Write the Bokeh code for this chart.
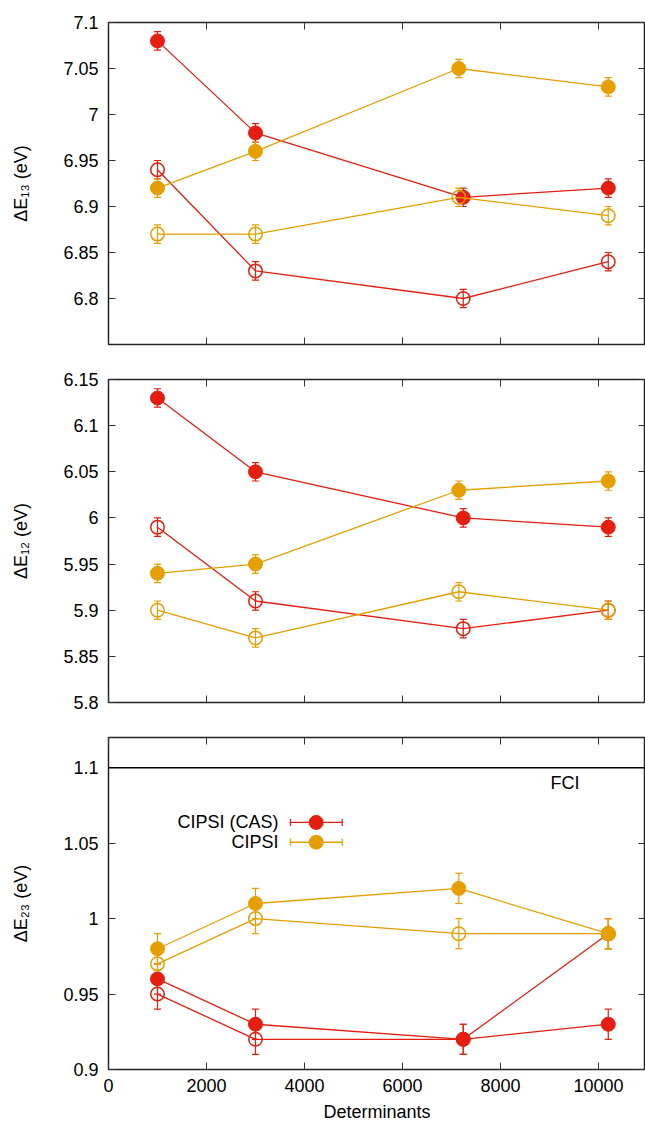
from bokeh.plotting import figure
from bokeh.layouts import column
from bokeh.models import (ColumnDataSource, LinearAxis, FixedTicker, CustomJSTickFormatter,
                          Whisker, TeeHead, Span, Label, Range1d, CustomLabelingPolicy)
from bokeh.embed import file_html
from bokeh.resources import INLINE

# ---------------- data ----------------
X_CAS = [1000, 3000, 7240, 10200]
X_CIPSI = [1000, 3000, 7150, 10200]
ERR = [0.01, 0.01, 0.01, 0.01]

# Delta E13
E13_CAS_FILLED = [7.08, 6.98, 6.91, 6.92]
E13_CAS_OPEN = [6.94, 6.83, 6.80, 6.84]
E13_CIPSI_FILLED = [6.92, 6.96, 7.05, 7.03]
E13_CIPSI_OPEN = [6.87, 6.87, 6.91, 6.89]

# Delta E12
E12_CAS_FILLED = [6.13, 6.05, 6.00, 5.99]
E12_CAS_OPEN = [5.99, 5.91, 5.88, 5.90]
E12_CIPSI_FILLED = [5.94, 5.95, 6.03, 6.04]
E12_CIPSI_OPEN = [5.90, 5.87, 5.92, 5.90]

# Delta E23
E23_CAS_FILLED = [0.96, 0.93, 0.92, 0.93]
E23_CAS_OPEN = [0.95, 0.92, 0.92, 0.99]
E23_CIPSI_FILLED = [0.98, 1.01, 1.02, 0.99]
E23_CIPSI_OPEN = [0.97, 1.00, 0.99, 0.99]

FCI_E23 = 1.1

X_TICKS = [0, 2000, 4000, 6000, 8000, 10000]
Y13_TICKS = [6.8, 6.85, 6.9, 6.95, 7.0, 7.05, 7.1]
Y12_TICKS = [5.8, 5.85, 5.9, 5.95, 6.0, 6.05, 6.1, 6.15]
Y23_TICKS = [0.9, 0.95, 1.0, 1.05, 1.1]

LEGEND_LABELS = ["CIPSI (CAS)", "CIPSI"]

# ---------------- style ----------------
RED = "#e51e10"
ORANGE = "#e69f00"
FONT = "Liberation Sans"
FS = "18px"
X_END = 10960
FRAME_W = 537

NO_LABELS = """
try {
  const r = indices.clone();
  for (let i = 0; i < indices.size; i++) { r.set(i, false); }
  return r;
} catch (e) {
  return indices;
}
"""


def style_axis(ax, show_labels):
    ax.axis_line_color = None
    ax.major_tick_in = 7
    ax.major_tick_out = 0
    ax.minor_tick_in = 0
    ax.minor_tick_out = 0
    ax.major_tick_line_color = "#333333"
    ax.major_tick_line_width = 1
    if show_labels:
        ax.major_label_text_font = FONT
        ax.major_label_text_font_size = FS
        ax.major_label_text_color = "black"
    else:
        ax.major_label_text_font_size = "0px"
        ax.major_label_standoff = 0
        ax.major_label_policy = CustomLabelingPolicy(code=NO_LABELS)


def make_panel(yr, yticks, ylabel, series, frame_h, top, bottom, show_x):
    p = figure(x_range=Range1d(0, X_END), y_range=Range1d(*yr),
               frame_width=FRAME_W, frame_height=frame_h,
               min_border_left=108, min_border_right=0,
               min_border_top=top, min_border_bottom=bottom,
               output_backend="svg", toolbar_location=None)
    p.grid.visible = False
    p.outline_line_color = "#222222"
    p.outline_line_width = 1.5
    p.background_fill_color = "white"
    p.border_fill_color = "white"

    xt = FixedTicker(ticks=X_TICKS, minor_ticks=[])
    yt = FixedTicker(ticks=yticks, minor_ticks=[])
    yfmt = CustomJSTickFormatter(code="return Number(tick.toFixed(3)).toString();")

    xb = p.xaxis[0]
    xb.ticker = xt
    style_axis(xb, show_x)
    if show_x:
        xb.major_label_standoff = 9
        xb.axis_label = "Determinants"
        xb.axis_label_standoff = 7
        xb.axis_label_text_font = FONT
        xb.axis_label_text_font_size = FS
        xb.axis_label_text_font_style = "normal"
        xb.axis_label_text_color = "black"

    yl = p.yaxis[0]
    yl.ticker = yt
    yl.formatter = yfmt
    style_axis(yl, True)
    yl.major_label_standoff = 10
    yl.axis_label = ylabel
    yl.axis_label_standoff = 29
    yl.axis_label_text_font = FONT
    yl.axis_label_text_font_size = FS
    yl.axis_label_text_font_style = "normal"
    yl.axis_label_text_color = "black"

    xa = LinearAxis(ticker=xt)
    style_axis(xa, False)
    p.add_layout(xa, "above")
    yr_ax = LinearAxis(ticker=yt)
    style_axis(yr_ax, False)
    p.add_layout(yr_ax, "right")

    for xs, ys, color, filled in series:
        src = ColumnDataSource(dict(
            x=xs, y=ys,
            lo=[v - e for v, e in zip(ys, ERR)],
            hi=[v + e for v, e in zip(ys, ERR)]))
        p.line("x", "y", source=src, line_color=color, line_width=1.3)
        w = Whisker(source=src, base="x", lower="lo", upper="hi",
                    line_color=color, line_width=1.2,
                    upper_head=TeeHead(size=7, line_color=color, line_width=1.2),
                    lower_head=TeeHead(size=7, line_color=color, line_width=1.2))
        p.add_layout(w)
        if filled:
            p.scatter("x", "y", source=src, marker="circle", size=14,
                      fill_color=color, line_color=color, line_width=1)
        else:
            p.scatter("x", "y", source=src, marker="circle", size=13.5,
                      fill_color=None, line_color=color, line_width=1.5)
    return p


p1 = make_panel((6.75, 7.1), Y13_TICKS, "ΔE₁₃ (eV)", [
    (X_CAS, E13_CAS_FILLED, RED, True),
    (X_CAS, E13_CAS_OPEN, RED, False),
    (X_CIPSI, E13_CIPSI_FILLED, ORANGE, True),
    (X_CIPSI, E13_CIPSI_OPEN, ORANGE, False),
], 322, 22, 17, False)

p2 = make_panel((5.8, 6.15), Y12_TICKS, "ΔE₁₂ (eV)", [
    (X_CAS, E12_CAS_FILLED, RED, True),
    (X_CAS, E12_CAS_OPEN, RED, False),
    (X_CIPSI, E12_CIPSI_FILLED, ORANGE, True),
    (X_CIPSI, E12_CIPSI_OPEN, ORANGE, False),
], 323, 18, 17, False)

p3 = make_panel((0.9, 1.12), Y23_TICKS, "ΔE₂₃ (eV)", [
    (X_CAS, E23_CAS_OPEN, RED, False),
    (X_CAS, E23_CAS_FILLED, RED, True),
    (X_CIPSI, E23_CIPSI_OPEN, ORANGE, False),
    (X_CIPSI, E23_CIPSI_FILLED, ORANGE, True),
], 332, 18, 55, True)

# FCI reference line
p3.add_layout(Span(location=FCI_E23, dimension="width", line_color="black", line_width=1.5))
p3.add_layout(Label(x=9020, y=1.09, text="FCI", text_align="left", text_baseline="middle",
                    text_font=FONT, text_font_size=FS, text_color="black"))

# legend (key: horizontal error bar with a filled circle, label to the left)
LEG_Y = [1.0637, 1.0506]
LEG_X0, LEG_X1, LEG_XC, LEG_TX = 3714, 4770, 4239, 3470
for lab, ly, color in zip(LEGEND_LABELS, LEG_Y, [RED, ORANGE]):
    lsrc = ColumnDataSource(dict(y=[ly], x0=[LEG_X0], x1=[LEG_X1], xc=[LEG_XC]))
    p3.add_layout(Whisker(source=lsrc, base="y", lower="x0", upper="x1", dimension="width",
                          line_color=color, line_width=1.3,
                          upper_head=TeeHead(size=7, line_color=color, line_width=1.3),
                          lower_head=TeeHead(size=7, line_color=color, line_width=1.3)))
    p3.scatter("xc", "y", source=lsrc, marker="circle", size=14,
               fill_color=color, line_color=color)
    p3.add_layout(Label(x=LEG_TX, y=ly, text=lab, text_align="right", text_baseline="middle",
                        text_font=FONT, text_font_size=FS, text_color="black"))

layout = column(p1, p2, p3, spacing=0)
open("out.html", "w").write(file_html(layout, INLINE))
